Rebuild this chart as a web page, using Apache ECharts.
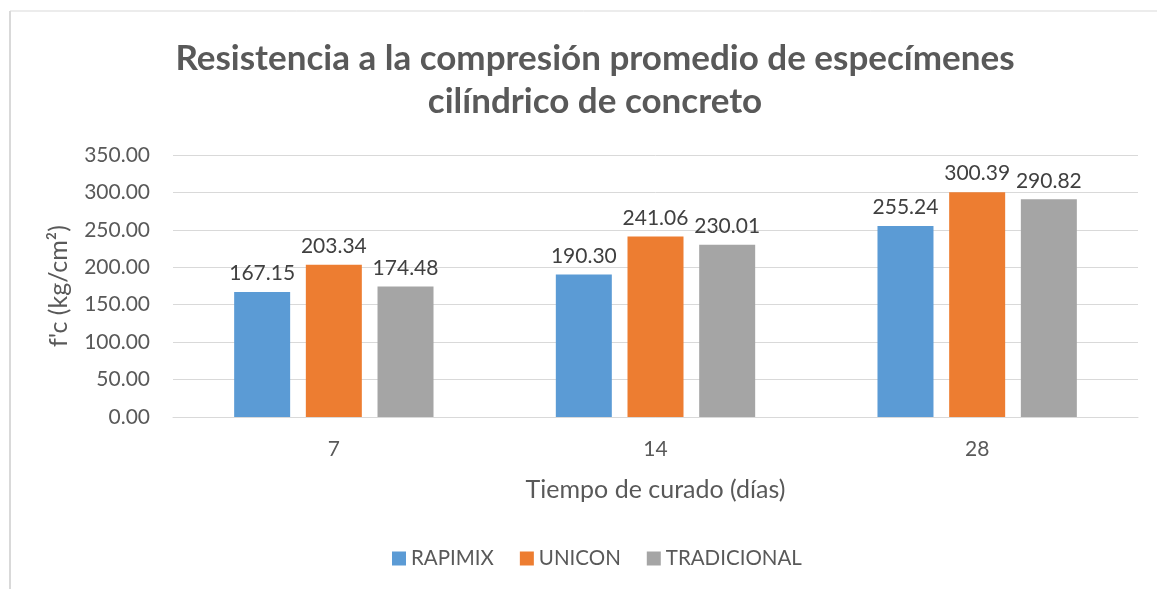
<!DOCTYPE html>
<html>
<head>
<meta charset="utf-8">
<script src="https://cdn.jsdelivr.net/npm/echarts@6/dist/echarts.min.js"></script>
<style>
  html, body { margin: 0; padding: 0; background: #fff; }
  #chart { width: 1157px; height: 589px; }
</style>
</head>
<body>
<div id="chart"></div>
<script>
const categories = ['7', '14', '28']
const rapimix = [167.15, 190.30, 255.24]
const unicon = [203.34, 241.06, 300.39]
const tradicional = [174.48, 230.01, 290.82]

const font = 'Lato, "Open Sans", sans-serif'
const textColor = '#595959'

const chart = echarts.init(document.getElementById('chart'))

function barSeries(name, data, color) {
  return {
    name,
    type: 'bar',
    data,
    barWidth: 56,
    barGap: '28%',
    itemStyle: { color },
    label: {
      show: true,
      position: 'top',
      distance: 8,
      color: '#404040',
      fontSize: 21,
      fontFamily: font,
      formatter: p => p.value.toFixed(2)
    }
  }
}

chart.setOption({
  animation: false,
  backgroundColor: '#fff',
  title: {
    text: 'Resistencia a la compresión promedio de especímenes\ncilíndrico de concreto',
    left: 590,
    top: 32,
    textAlign: 'center',
    textStyle: {
      color: textColor,
      fontSize: 35,
      fontWeight: 'bold',
      fontFamily: font,
      lineHeight: 43
    }
  },
  graphic: [
    { type: 'line', shape: { x1: 10, y1: 11, x2: 1157, y2: 11 }, style: { stroke: '#d9d9d9', lineWidth: 1 } },
    { type: 'line', shape: { x1: 10, y1: 11, x2: 10, y2: 589 }, style: { stroke: '#d9d9d9', lineWidth: 2 } }
  ],
  legend: {
    bottom: 15,
    left: 387,
    itemWidth: 14,
    itemHeight: 14,
    itemGap: 26,
    icon: 'rect',
    textStyle: { color: textColor, fontSize: 20.5, fontFamily: font },
    data: ['RAPIMIX', 'UNICON', 'TRADICIONAL']
  },
  grid: {
    left: 173,
    right: 19,
    top: 155,
    bottom: 172,
    containLabel: false
  },
  xAxis: {
    type: 'category',
    data: categories,
    name: 'Tiempo de curado (días)',
    nameLocation: 'middle',
    nameGap: 60,
    nameTextStyle: { color: textColor, fontSize: 25, fontFamily: font },
    axisLine: { lineStyle: { color: '#d9d9d9' } },
    axisTick: { show: false },
    axisLabel: { color: textColor, fontSize: 21, fontFamily: font, margin: 22 }
  },
  yAxis: {
    type: 'value',
    min: 0,
    max: 350,
    interval: 50,
    name: "f'c (kg/cm²)",
    nameLocation: 'middle',
    nameGap: 102,
    nameRotate: 90,
    nameTextStyle: { color: textColor, fontSize: 25, fontFamily: font },
    axisLine: { show: false },
    axisTick: { show: false },
    splitLine: { lineStyle: { color: '#d9d9d9' } },
    axisLabel: {
      color: textColor,
      fontSize: 21,
      fontFamily: font,
      margin: 23,
      formatter: v => v.toFixed(2)
    }
  },
  series: [
    barSeries('RAPIMIX', rapimix, '#5B9BD5'),
    barSeries('UNICON', unicon, '#ED7D31'),
    barSeries('TRADICIONAL', tradicional, '#A5A5A5')
  ]
})
</script>
</body>
</html>
